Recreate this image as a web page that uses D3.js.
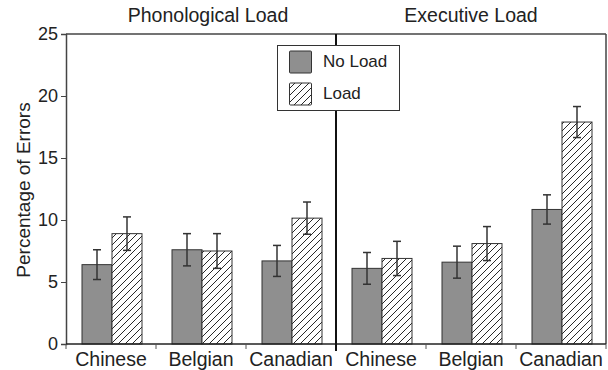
<!DOCTYPE html>
<html>
<head>
<meta charset="utf-8">
<script src="https://cdn.jsdelivr.net/npm/d3@7"></script>
<style>
  html, body { margin: 0; padding: 0; background: #fff; }
  svg { display: block; font-family: "Liberation Sans", Arial, Helvetica, sans-serif; }
</style>
</head>
<body>
<svg id="chart" width="608" height="370"></svg>
<script>
// ---- data ----
const panels = ["Phonological Load", "Executive Load"];
const categories = ["Chinese", "Belgian", "Canadian"];
const series = ["No Load", "Load"];
const phonoNoLoad = [6.4, 7.6, 6.7];
const phonoNoLoadErr = [1.2, 1.3, 1.25];
const phonoLoad = [8.9, 7.5, 10.15];
const phonoLoadErr = [1.35, 1.4, 1.3];
const execNoLoad = [6.1, 6.6, 10.85];
const execNoLoadErr = [1.28, 1.29, 1.18];
const execLoad = [6.9, 8.1, 17.9];
const execLoadErr = [1.38, 1.37, 1.25];
const yTicks = [0, 5, 10, 15, 20, 25];
const yLabel = "Percentage of Errors";

const values = {
  "Phonological Load": { "No Load": [phonoNoLoad, phonoNoLoadErr], "Load": [phonoLoad, phonoLoadErr] },
  "Executive Load": { "No Load": [execNoLoad, execNoLoadErr], "Load": [execLoad, execLoadErr] }
};
const rows = [];
panels.forEach(p => categories.forEach((c, i) => series.forEach(s => {
  rows.push({ panel: p, cat: c, series: s, value: values[p][s][0][i], err: values[p][s][1][i] });
})));

// ---- layout ----
const svg = d3.select("#chart");
const mLeft = 66, mRight = 606, mTop = 34, mBottom = 344;

const xPanel = d3.scaleBand().domain(panels).range([mLeft, mRight]).padding(0);
const xCat = d3.scaleBand().domain(categories).range([0, xPanel.bandwidth()]).padding(0);
const xSer = d3.scaleBand().domain(series).range([16, 76]).padding(0);
const y = d3.scaleLinear().domain([0, 25]).range([mBottom, mTop]);

const defs = svg.append("defs");
const pat = defs.append("pattern").attr("id", "hatch")
  .attr("patternUnits", "userSpaceOnUse").attr("width", 7).attr("height", 7);
pat.append("rect").attr("width", 7).attr("height", 7).attr("fill", "#fff");
pat.append("path").attr("d", "M-1,1 l2,-2 M0,7 l7,-7 M6,8 l2,-2")
  .attr("stroke", "#111").attr("stroke-width", 0.9);

const fillFor = s => s === "No Load" ? "#8f8f8f" : "url(#hatch)";

// bars
svg.append("g").selectAll("rect").data(rows).join("rect")
  .attr("x", d => xPanel(d.panel) + xCat(d.cat) + xSer(d.series))
  .attr("y", d => y(d.value))
  .attr("width", xSer.bandwidth())
  .attr("height", d => y(0) - y(d.value))
  .attr("fill", d => fillFor(d.series))
  .attr("stroke", "#333").attr("stroke-width", 1);

// error bars
const eg = svg.append("g").attr("stroke", "#333").attr("stroke-width", 1.5).attr("fill", "none");
rows.forEach(d => {
  const cx = xPanel(d.panel) + xCat(d.cat) + xSer(d.series) + xSer.bandwidth() / 2;
  const y1 = y(d.value + d.err), y2 = y(d.value - d.err);
  eg.append("line").attr("x1", cx).attr("x2", cx).attr("y1", y1).attr("y2", y2);
  eg.append("line").attr("x1", cx - 4).attr("x2", cx + 4).attr("y1", y1).attr("y2", y1);
  eg.append("line").attr("x1", cx - 4).attr("x2", cx + 4).attr("y1", y2).attr("y2", y2);
});

// frame: top and right
svg.append("line").attr("x1", mLeft).attr("x2", mRight).attr("y1", mTop).attr("y2", mTop)
  .attr("stroke", "#444").attr("stroke-width", 1.5);
svg.append("line").attr("x1", mRight).attr("x2", mRight).attr("y1", mTop).attr("y2", mBottom)
  .attr("stroke", "#444").attr("stroke-width", 1.5);

// y axis
const yAxis = svg.append("g").attr("transform", `translate(${mLeft},0)`)
  .call(d3.axisLeft(y).tickValues(yTicks).tickSize(5).tickPadding(3));
yAxis.select(".domain").attr("stroke", "#444").attr("stroke-width", 1.5);
yAxis.selectAll(".tick line").attr("stroke", "#444");
yAxis.selectAll(".tick text").attr("font-size", 18).attr("fill", "#222")
  .attr("font-family", "Liberation Sans, Arial, sans-serif");

// x axis
const catPositions = [];
panels.forEach(p => categories.forEach(c => catPositions.push({ p, c })));
const xg = svg.append("g");
xg.append("line").attr("x1", mLeft).attr("x2", mRight).attr("y1", mBottom).attr("y2", mBottom)
  .attr("stroke", "#222").attr("stroke-width", 1.5);
const bounds = [];
panels.forEach(p => categories.forEach(c => bounds.push(xPanel(p) + xCat(c))));
bounds.push(mRight);
xg.selectAll("line.tk").data(bounds).join("line").attr("class", "tk")
  .attr("x1", d => d).attr("x2", d => d).attr("y1", mBottom).attr("y2", mBottom + 5)
  .attr("stroke", "#555").attr("stroke-width", 1);
xg.selectAll("text").data(catPositions).join("text")
  .attr("x", d => xPanel(d.p) + xCat(d.c) + xCat.bandwidth() / 2)
  .attr("y", 366).attr("text-anchor", "middle")
  .attr("font-size", 19.5).attr("fill", "#222").text(d => d.c);

// divider
svg.append("line")
  .attr("x1", xPanel(panels[1])).attr("x2", xPanel(panels[1]))
  .attr("y1", mTop).attr("y2", mBottom + 7)
  .attr("stroke", "#111").attr("stroke-width", 2);

// panel titles
svg.selectAll("text.ptitle").data(panels).join("text").attr("class", "ptitle")
  .attr("x", (d, i) => xPanel(d) + xPanel.bandwidth() / 2 + (i === 0 ? 7 : 0))
  .attr("y", 22).attr("text-anchor", "middle")
  .attr("font-size", 19.5).attr("fill", "#222").text(d => d);

// y label
svg.append("text")
  .attr("transform", `translate(30,${(mTop + mBottom) / 2 + 1}) rotate(-90)`)
  .attr("text-anchor", "middle").attr("font-size", 19).attr("fill", "#222")
  .text(yLabel);

// legend
const lg = svg.append("g");
lg.append("rect").attr("x", 277.5).attr("y", 45.5).attr("width", 122).attr("height", 65)
  .attr("fill", "#fff").attr("stroke", "#333").attr("stroke-width", 1);
series.forEach((s, i) => {
  const yy = 51 + i * 32;
  lg.append("rect").attr("x", 289.5).attr("y", yy).attr("width", 22).attr("height", 22)
    .attr("rx", 1).attr("fill", fillFor(s)).attr("stroke", "#333").attr("stroke-width", 1);
  lg.append("text").attr("x", 323).attr("y", yy + 15.5).attr("font-size", 17)
    .attr("fill", "#222").text(s);
});
</script>
</body>
</html>
